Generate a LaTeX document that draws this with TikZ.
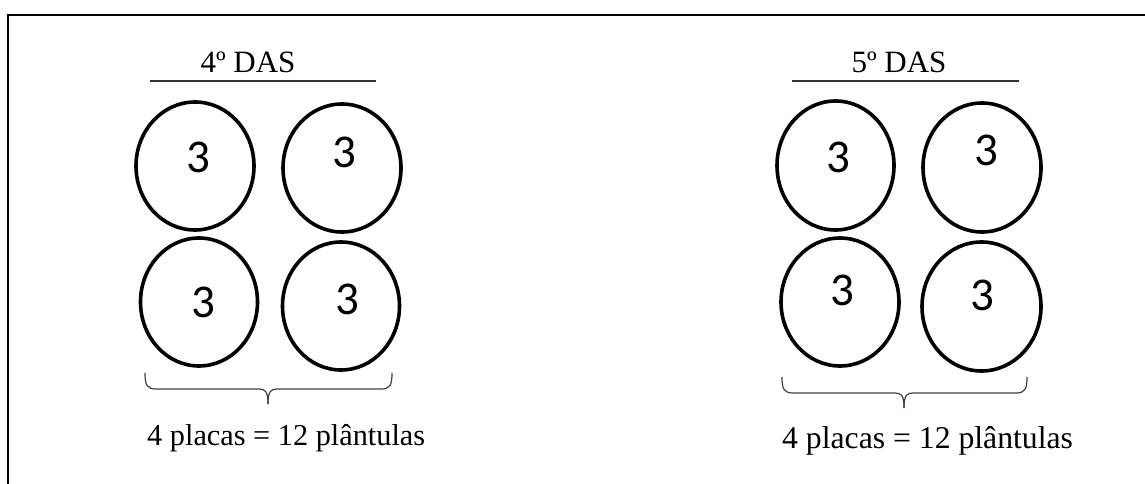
\documentclass[tikz,border=0pt]{standalone}
\usepackage{fontspec}
\setmainfont{Liberation Serif}
\newfontfamily\numfont{Carlito}
\usetikzlibrary{shapes.geometric}
\begin{document}
\begin{tikzpicture}[x=1pt,y=-1pt,
  plate/.style={draw=black,line width=3.6pt,ellipse,inner sep=0pt},
  num/.style={inner sep=0pt,font=\numfont\fontsize{47}{50}\selectfont},
  title/.style={inner sep=0pt,anchor=base,font=\fontsize{31}{34}\selectfont},
  caption/.style={inner sep=0pt,anchor=base west},
  rule/.style={draw=black!80,line width=1.6pt},
  bracepath/.style={draw=black!75,line width=1.2pt}]
\useasboundingbox (0,0) rectangle (1145,484);
\fill[white] (0,0) rectangle (1145,484);
% frame
\coordinate (fb) at (8,490);
\coordinate (fc) at (8,15);
\coordinate (fr) at (1150,15);
\draw[line width=2.8pt] (fb) -- (fc) -- (fr);

% ---------- left group ----------
\node[title] (t4) at (248,73) {4º DAS};
\coordinate (l4a) at (150,81);
\coordinate (l4b) at (376,81);
\draw[rule] (l4a) -- (l4b);
\node[plate,minimum width=118pt,minimum height=128pt] (a1) at (195,166) {};
\node[plate,minimum width=118pt,minimum height=128pt] (a2) at (342,168) {};
\node[plate,minimum width=117pt,minimum height=128pt] (a3) at (199,302) {};
\node[plate,minimum width=117pt,minimum height=128pt] (a4) at (341,306) {};
\node[num] (n1) at (198,157) {3};
\node[num] (n2) at (344,152) {3};
\node[num] (n3) at (203,302) {3};
\node[num] (n4) at (347,299) {3};
\coordinate (b1l) at (145,373);
\coordinate (b1r) at (392,373);
\coordinate (b1t) at (268,404);
\draw[bracepath] (b1l) .. controls (145,385) and (147,389) .. (156,389) -- (259,389)
   .. controls (265,389) and (268,391) .. (b1t);
\draw[bracepath] (b1r) .. controls (392,385) and (390,389) .. (381,389) -- (277,389)
   .. controls (271,389) and (268,391) .. (b1t);
\node[caption,font=\fontsize{30.3}{34}\selectfont] (c1) at (147,445) {4 placas = 12 plântulas};

% ---------- right group ----------
\node[title] (t5) at (899,73) {5º DAS};
\coordinate (l5a) at (792,81);
\coordinate (l5b) at (1019,81);
\draw[rule] (l5a) -- (l5b);
\node[plate,minimum width=117pt,minimum height=129pt] (d1) at (835.5,165.5) {};
\node[plate,minimum width=118pt,minimum height=129pt] (d2) at (982,167.5) {};
\node[plate,minimum width=118pt,minimum height=128pt] (d3) at (840,302) {};
\node[plate,minimum width=119pt,minimum height=129pt] (d4) at (981.5,306.5) {};
\node[num] (m1) at (838,157) {3};
\node[num] (m2) at (986,150) {3};
\node[num] (m3) at (842,290) {3};
\node[num] (m4) at (982,295) {3};
\coordinate (b2l) at (782,377);
\coordinate (b2r) at (1027,377);
\coordinate (b2t) at (904,408);
\draw[bracepath] (b2l) .. controls (782,389) and (784,393) .. (793,393) -- (895,393)
   .. controls (901,393) and (904,395) .. (b2t);
\draw[bracepath] (b2r) .. controls (1027,389) and (1025,393) .. (1016,393) -- (913,393)
   .. controls (907,393) and (904,395) .. (b2t);
\node[caption,font=\fontsize{31.7}{35}\selectfont] (c2) at (782,448) {4 placas = 12 plântulas};
\end{tikzpicture}
\end{document}
